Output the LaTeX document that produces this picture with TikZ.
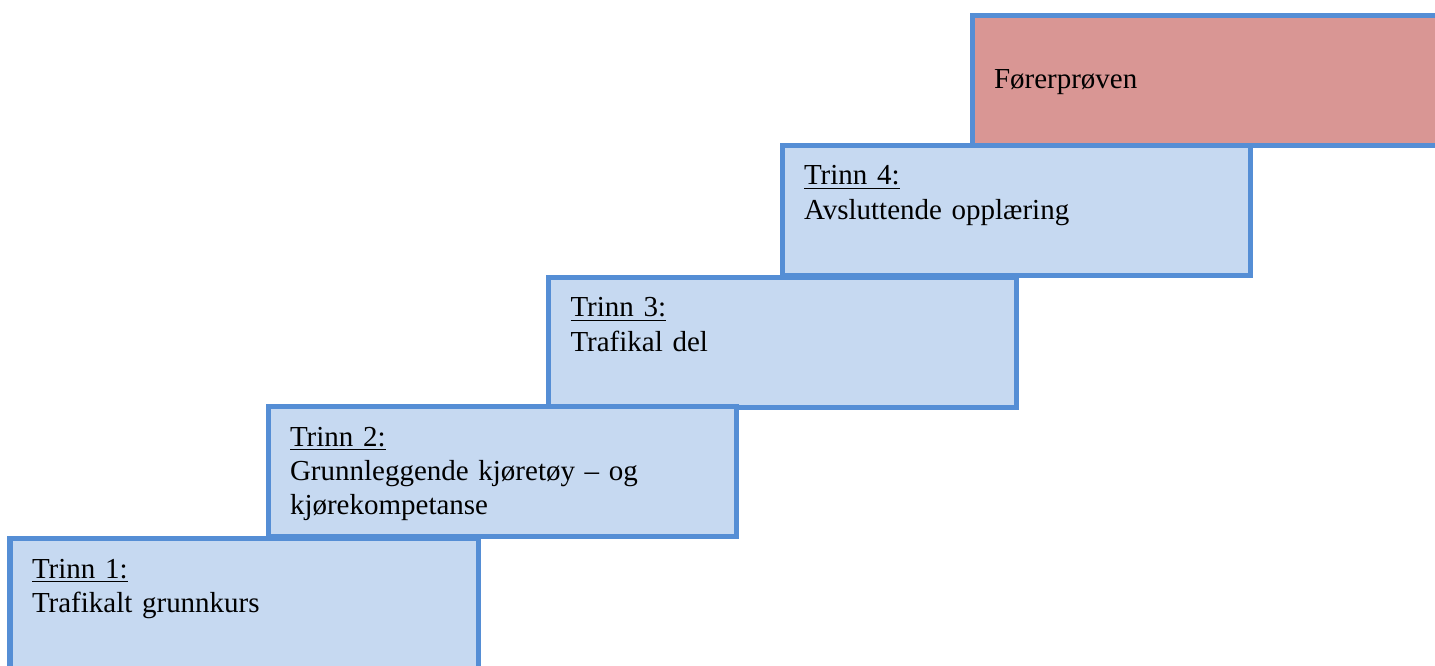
\documentclass[tikz,border=0pt]{standalone}
\usepackage{fontspec}
\setmainfont{Liberation Serif}

\definecolor{stepline}{RGB}{85,142,213}
\definecolor{stepfill}{RGB}{198,217,241}
\definecolor{provefill}{RGB}{217,150,148}

\tikzset{
  stepbox/.style={draw=stepline, fill=stepfill, line width=0.1cm, rectangle,
    anchor=north west, outer sep=0pt, inner xsep=0.44cm, inner ysep=0pt,
    text width=8.48cm, align=left, text height=0.79cm, text depth=1.81cm,
    font=\fontsize{16.5}{19.4}\selectfont},
  provebox/.style={stepbox, fill=provefill, text width=10cm,
    text height=1.47cm, text depth=1.13cm}
}

\begin{document}
\begin{tikzpicture}
  \useasboundingbox (0,0) rectangle (28.7,13.32);
  \clip (0,0) rectangle (28.7,13.32);
  \node (t4) [stepbox] at (15.64,10.41) {\underline{Trinn 4:}\\Avsluttende opplæring};
  \node (prove) [provebox] at (19.44,13.01) {Førerprøven};
  \node (t3) [stepbox] at (10.97,7.77) {\underline{Trinn 3:}\\Trafikal del};
  \node (t2) [stepbox] at (5.36,5.18) {\underline{Trinn 2:}\\Grunnleggende kjøretøy – og\\kjørekompetanse};
  \node (t1) [stepbox, text depth=2.5cm] at (0.20,2.54) {\underline{Trinn 1:}\\Trafikalt grunnkurs};
\end{tikzpicture}
\end{document}
